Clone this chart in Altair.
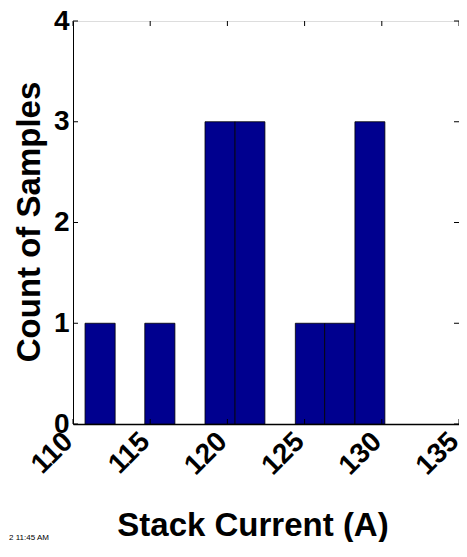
import altair as alt
import pandas as pd

# Histogram bin edges (A) and counts
bin_edges = [110.78, 112.73, 114.65, 116.6, 118.55, 120.5, 122.43, 124.4, 126.3, 128.26, 130.2]
counts = [1, 0, 1, 0, 3, 3, 0, 1, 1, 3]

x_ticks = [110, 115, 120, 125, 130, 135]
y_ticks = [0, 1, 2, 3, 4]

bars = pd.DataFrame({
    "lo": bin_edges[:-1],
    "hi": bin_edges[1:],
    "count": counts,
})
bars = bars[bars["count"] > 0]

xt = pd.DataFrame({"v": x_ticks})
yt = pd.DataFrame({"v": y_ticks})

FONT = "Liberation Sans"
W, H = 386, 403

xscale = alt.Scale(domain=[110, 135], nice=False, zero=False)
yscale = alt.Scale(domain=[0, 4], nice=False)

bar_layer = alt.Chart(bars).mark_rect(
    color="#00008F", stroke="#000000", strokeWidth=0.8
).encode(
    x=alt.X("lo:Q", scale=xscale,
            axis=alt.Axis(values=x_ticks, format="d", title="Stack Current (A)", labelAngle=-45,
                          labelAlign="right", labelBaseline="middle", labelPadding=13,
                          labelOffset=-5,
                          tickSize=0, labelFontSize=28, labelFontWeight="bold",
                          labelFont=FONT, labelColor="#000", grid=False,
                          domainColor="#000", domainWidth=1.5,
                          titleFont=FONT, titleFontSize=33, titleFontWeight="bold",
                          titleColor="#000", titleX=179.5, titleY=111,
                          titleAlign="center", titleBaseline="alphabetic",
                          labelFlush=False, labelOverlap=False)),
    x2="hi:Q",
    y=alt.Y("count:Q", scale=yscale,
            axis=alt.Axis(values=y_ticks, format="d", title="Count of Samples", tickSize=0,
                          labelPadding=4, labelFontSize=28, labelFontWeight="bold",
                          labelFont=FONT, labelColor="#000", grid=False,
                          domainColor="#000", domainWidth=1,
                          titleFont=FONT, titleFontSize=33, titleFontWeight="bold",
                          titleColor="#000", titleX=-44, titleY=200.5,
                          titleAlign="center", titleBaseline="middle", titleAngle=-90,
                          labelFlush=False, labelOverlap=False)),
    y2=alt.datum(0),
)

tick_style = dict(color="#000", strokeWidth=1)
xt_bottom = alt.Chart(xt).mark_rule(**tick_style).encode(
    x=alt.X("v:Q", scale=xscale), y=alt.value(H), y2=alt.value(H - 5))
xt_top = alt.Chart(xt).mark_rule(**tick_style).encode(
    x=alt.X("v:Q", scale=xscale), y=alt.value(0), y2=alt.value(5))
yt_left = alt.Chart(yt).mark_rule(**tick_style).encode(
    y=alt.Y("v:Q", scale=yscale), x=alt.value(0), x2=alt.value(5))
yt_right = alt.Chart(yt).mark_rule(**tick_style).encode(
    y=alt.Y("v:Q", scale=yscale), x=alt.value(W), x2=alt.value(W - 5))

stamp = alt.Chart(pd.DataFrame({"t": ["2 11:45 AM"]})).mark_text(
    align="left", baseline="alphabetic", font=FONT, fontSize=8, color="#000"
).encode(x=alt.value(-64), y=alt.value(519), text="t:N")

chart = alt.layer(bar_layer, xt_bottom, xt_top, yt_left, yt_right, stamp).properties(
    width=W, height=H,
    autosize=alt.AutoSizeParams(type="none"),
    padding={"left": 65, "top": 13, "right": 0, "bottom": 118},
).configure_view(stroke="#000", strokeWidth=1).configure(background="white")

chart.save("out.html", embed_options={"renderer": "svg", "actions": False})
